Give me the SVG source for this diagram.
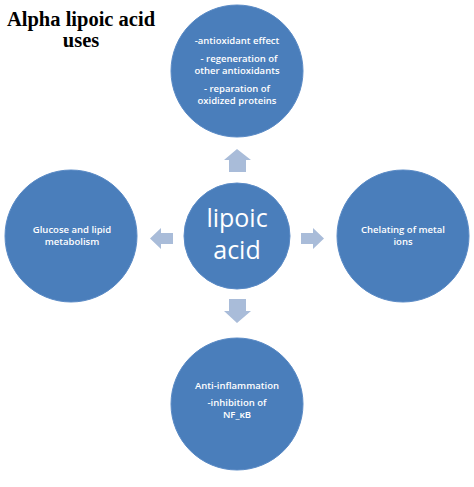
<svg xmlns="http://www.w3.org/2000/svg" width="474" height="487" viewBox="0 0 474 487">
<style>
.c{fill:#4a7ebb;stroke:#5b8bc6;stroke-width:1}
.a{fill:#a9bcd9}
.t{font-family:"Open Sans","Liberation Sans",sans-serif;font-weight:600;font-size:9.5px;fill:#fff;text-anchor:middle}
.big{font-family:"Open Sans","Liberation Sans",sans-serif;font-size:25px;fill:#fff;text-anchor:middle}
.title{font-family:"Liberation Serif",serif;font-weight:bold;font-size:20.5px;fill:#000;text-anchor:middle}
</style>
<rect width="474" height="487" fill="#fff"/>
<g id="title"><text class="title" x="81" y="26">Alpha lipoic acid</text><text class="title" x="81" y="47">uses</text></g>
<g id="connectors">
<polygon class="a" points="237,149 251,160 246,160 246,172 229,172 229,160 224,160"/>
<polygon class="a" points="150,238.5 161,228 161,233 173,233 173,244 161,244 161,249"/>
<polygon class="a" points="324,238.5 313,228 313,233 301,233 301,244 313,244 313,249"/>
<polygon class="a" points="237,323 251,311 246,311 246,299 229,299 229,311 224,311"/>
</g>
<g id="top"><circle class="c" cx="237" cy="71" r="66"/>
<text class="t" x="237" y="44">-antioxidant effect</text>
<text class="t" x="239" y="62">- regeneration of</text>
<text class="t" x="237" y="74">other antioxidants</text>
<text class="t" x="237" y="92">- reparation of</text>
<text class="t" x="237" y="104">oxidized proteins</text></g>
<g id="center"><circle class="c" cx="237" cy="236" r="53"/>
<text class="big" x="237" y="227">lipoic</text>
<text class="big" x="237" y="259">acid</text></g>
<g id="left"><circle class="c" cx="71" cy="236" r="66"/>
<text class="t" x="72" y="233">Glucose and lipid</text>
<text class="t" x="72" y="245">metabolism</text></g>
<g id="right"><circle class="c" cx="403" cy="236" r="66"/>
<text class="t" x="403" y="233">Chelating of metal</text>
<text class="t" x="403" y="245">ions</text></g>
<g id="bottom"><circle class="c" cx="237" cy="404" r="66"/>
<text class="t" x="237" y="389">Anti-inflammation</text>
<text class="t" x="237" y="406">-inhibition of</text>
<text class="t" x="237" y="418">NF_κB</text></g>
</svg>
